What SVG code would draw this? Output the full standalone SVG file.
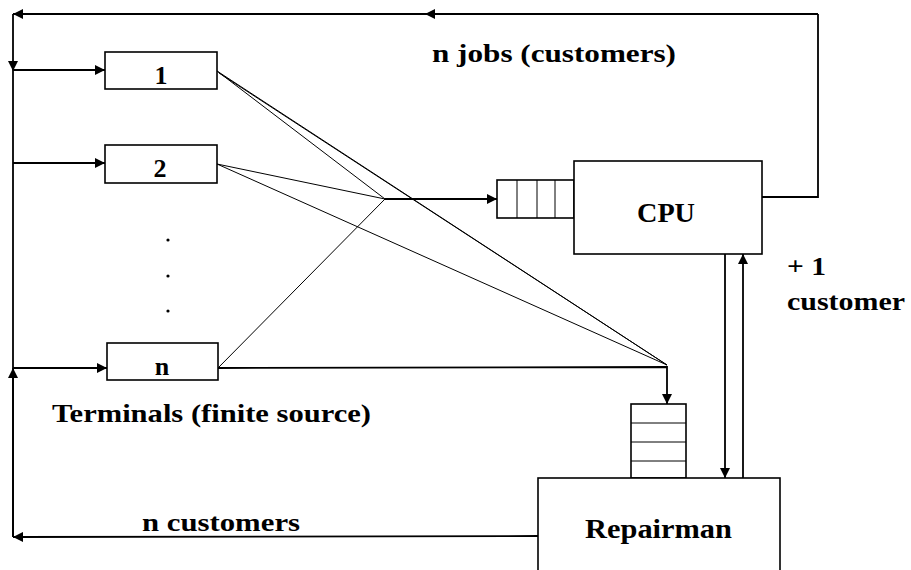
<svg xmlns="http://www.w3.org/2000/svg" width="911" height="570" viewBox="0 0 911 570">
<style>
.box{fill:#fff;stroke:#000;stroke-width:1.6}
.ln{fill:none;stroke:#000;stroke-width:1.8}
.thin{fill:none;stroke:#000;stroke-width:1}
.t{font-family:"Liberation Serif","Times New Roman",serif;font-weight:bold;font-size:26px;fill:#000}
.big{font-size:28px}
</style>
<defs>
<marker id="arr" markerUnits="userSpaceOnUse" markerWidth="10" markerHeight="10" refX="10" refY="5" orient="auto">
<path d="M0,0 L10,5 L0,10 z" fill="#000"/>
</marker>
</defs>
<rect width="911" height="570" fill="#fff"/>
<g id="connectors">
<path class="ln" d="M818,14 L425,14" marker-end="url(#arr)"/>
<path class="ln" d="M425,14 L13,14" marker-end="url(#arr)"/>
<path class="ln" d="M13,14 L13,71" marker-end="url(#arr)"/>
<path class="ln" d="M13,71 L13,537"/>
<path class="ln" d="M13,537 L13,368" marker-end="url(#arr)"/>
<path class="ln" d="M13,70 L105,70" marker-end="url(#arr)"/>
<path class="ln" d="M13,163 L105,163" marker-end="url(#arr)"/>
<path class="ln" d="M13,368 L107,368" marker-end="url(#arr)"/>
<path class="ln" d="M818,14 L818,197 L762,197"/>
<path class="thin" d="M217,71 L385,199"/>
<path class="thin" d="M217,71 L667,365"/>
<path class="thin" d="M219,73 L667,365"/>
<path class="thin" d="M217,164 L385,199"/>
<path class="thin" d="M217,164 L667,365"/>
<path class="thin" d="M218,368 L385,199"/>
<path class="ln" d="M385,199 L497,199" marker-end="url(#arr)"/>
<path class="ln" d="M218,368 L667,367 L667,404" marker-end="url(#arr)"/>
<path class="ln" d="M725,254 L725,478" marker-end="url(#arr)"/>
<path class="ln" d="M743,478 L743,254" marker-end="url(#arr)"/>
<path class="ln" d="M538,536 L13,537" marker-end="url(#arr)"/>
</g>
<g id="terminal-1">
<rect class="box" x="105" y="52" width="112" height="37"/>
<text class="t" x="161" y="84" text-anchor="middle">1</text>
</g>
<g id="terminal-2">
<rect class="box" x="105" y="145" width="112" height="38"/>
<text class="t" x="160" y="177" text-anchor="middle">2</text>
</g>
<g id="dots">
<circle cx="168" cy="240" r="1.6"/>
<circle cx="168" cy="276" r="1.6"/>
<circle cx="168" cy="311" r="1.6"/>
</g>
<g id="terminal-n">
<rect class="box" x="107" y="343" width="111" height="37"/>
<text class="t" x="162" y="375" text-anchor="middle">n</text>
</g>
<g id="cpu-queue">
<rect class="box" x="497" y="180" width="77" height="38"/>
<path class="thin" d="M517,180 V218 M537,180 V218 M555,180 V218" stroke-width="1.4"/>
</g>
<g id="cpu">
<rect class="box" x="574" y="161" width="188" height="93"/>
<text class="t big" x="637" y="222" textLength="58" lengthAdjust="spacingAndGlyphs">CPU</text>
</g>
<g id="repair-queue">
<rect class="box" x="631" y="404" width="55" height="74"/>
<path class="thin" d="M631,423 H686 M631,442 H686 M631,461 H686" stroke-width="1.4"/>
</g>
<g id="repairman">
<rect class="box" x="538" y="478" width="242" height="100"/>
<text class="t big" x="585" y="538" textLength="147" lengthAdjust="spacingAndGlyphs">Repairman</text>
</g>
<g id="labels">
<text class="t" x="432" y="62" textLength="244" lengthAdjust="spacingAndGlyphs">n jobs (customers)</text>
<text class="t" x="52" y="422" textLength="319" lengthAdjust="spacingAndGlyphs">Terminals (finite source)</text>
<text class="t" x="142" y="531" textLength="158" lengthAdjust="spacingAndGlyphs">n customers</text>
<text class="t" x="787" y="275" textLength="39" lengthAdjust="spacingAndGlyphs">+ 1</text>
<text class="t" x="787" y="310" textLength="118" lengthAdjust="spacingAndGlyphs">customer</text>
</g>
</svg>
